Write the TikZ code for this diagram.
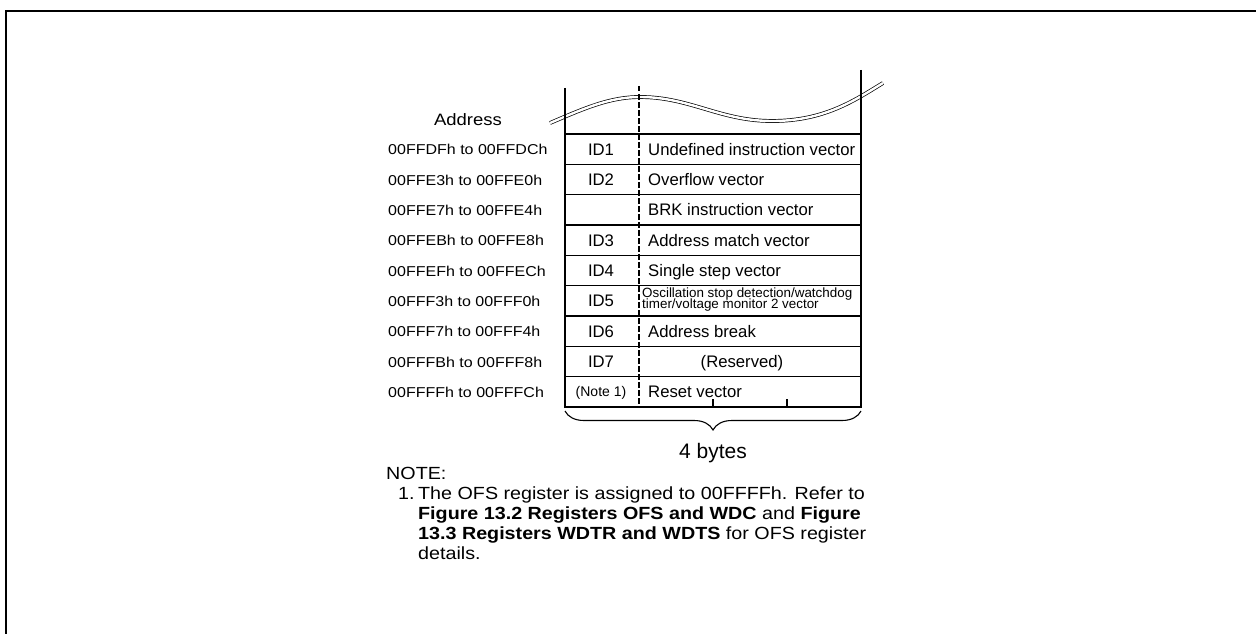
\documentclass[tikz,border=0pt]{standalone}
\usepackage{fontspec}
\setmainfont{Liberation Sans}
\newfontfamily\widefont[FakeStretch=1.12]{Liberation Sans}
\usetikzlibrary{decorations.pathreplacing}
\begin{document}
\begin{tikzpicture}[x=1pt,y=-1pt,
  addr/.style={anchor=base west,inner sep=0pt,font=\widefont\fontsize{14.3}{17}\selectfont},
  idl/.style={anchor=base,inner sep=0pt,font=\fontsize{16.7}{20}\selectfont},
  desc/.style={anchor=base west,inner sep=0pt,font=\fontsize{16.7}{20}\selectfont},
  small/.style={anchor=base west,inner sep=0pt,font=\fontsize{13.4}{11}\selectfont},
  notetxt/.style={anchor=base west,inner sep=0pt,font=\widefont\fontsize{17.6}{20}\selectfont},
  rowline/.style={line width=1.1pt},
  edgeline/.style={line width=1.6pt},
  dashline/.style={line width=2.2pt,dash pattern=on 5.5pt off 2.5pt},
  frameline/.style={line width=2.8pt}
]
\useasboundingbox (0,0) rectangle (1256,634);
% frame
\draw[frameline] (6,634) -- (6,11) -- (1256,11);
% wave (double line)
\draw[line width=0.7pt,double=white,double distance=2.4pt]
  (550,123) .. controls (585,108) and (610,97) .. (640,97)
  .. controls (690,97) and (720,121) .. (772,121)
  .. controls (825,121) and (855,100) .. (883,83);
% rows
\foreach \i in {0,...,8} {
  \draw[rowline] (565,{134+30.33*\i}) -- (861,{134+30.33*\i});
}
\draw[edgeline] (565,407) -- (861,407);
% verticals
\draw[edgeline] (565,88) -- (565,407.8);
\draw[edgeline] (861,70) -- (861,407.8);
\draw[dashline] (639,86) -- (639,407);
% byte ticks
\draw[rowline] (713,407) -- (713,399);
\draw[rowline] (787,407) -- (787,399);
% brace
\draw[line width=1.1pt,decorate,decoration={brace,mirror,amplitude=19pt}] (565,411) -- (861,411);
\node[inner sep=0pt,anchor=base,font=\fontsize{21}{24}\selectfont] (bytes) at (713,458) {4 bytes};
% header
\node[inner sep=0pt,anchor=base,font=\widefont\fontsize{16.5}{20}\selectfont] (addrhead) at (468,125) {Address};
% address labels
\node[addr] (a1) at (388,154.9) {00FFDFh to 00FFDCh};
\node[addr] (a2) at (388,185.2) {00FFE3h to 00FFE0h};
\node[addr] (a3) at (388,215.5) {00FFE7h to 00FFE4h};
\node[addr] (a4) at (388,245.9) {00FFEBh to 00FFE8h};
\node[addr] (a5) at (388,276.2) {00FFEFh to 00FFECh};
\node[addr] (a6) at (388,306.5) {00FFF3h to 00FFF0h};
\node[addr] (a7) at (388,336.9) {00FFF7h to 00FFF4h};
\node[addr] (a8) at (388,367.2) {00FFFBh to 00FFF8h};
\node[addr] (a9) at (388,397.5) {00FFFFh to 00FFFCh};
% ids
\node[idl] (id1) at (601,155.3) {ID1};
\node[idl] (id2) at (601,185.6) {ID2};
\node[idl] (id3) at (601,246.3) {ID3};
\node[idl] (id4) at (601,276.6) {ID4};
\node[idl] (id5) at (601,306.9) {ID5};
\node[idl] (id6) at (601,337.3) {ID6};
\node[idl] (id7) at (601,367.6) {ID7};
\node[inner sep=0pt,anchor=base,font=\fontsize{14}{16}\selectfont] (idn) at (601,396.8) {(Note 1)};
% descriptions
\node[desc] (d1) at (648,155.3) {Undefined instruction vector};
\node[desc] (d2) at (648,185.6) {Overflow vector};
\node[desc] (d3) at (648,215.9) {BRK instruction vector};
\node[desc] (d4) at (648,246.3) {Address match vector};
\node[desc] (d5) at (648,276.6) {Single step vector};
\node[small] (d6a) at (642,297.4) {Oscillation stop detection/watchdog};
\node[small] (d6b) at (642,308.8) {timer/voltage monitor 2 vector};
\node[desc] (d7) at (648,337.3) {Address break};
\node[idl] (d8) at (742,367.6) {(Reserved)};
\node[desc] (d9) at (648,397.9) {Reset vector};
% note
\node[notetxt] (nh) at (386,479) {NOTE:};
\node[notetxt] (n1n) at (398,499.5) {1.};
\node[notetxt] (n1) at (418,499.5) {The OFS register is assigned to 00FFFFh. Refer to};
\node[notetxt] (n2) at (418,519.5) {\textbf{Figure 13.2 Registers OFS and WDC} and \textbf{Figure}};
\node[notetxt] (n3) at (418,539.5) {\textbf{13.3 Registers WDTR and WDTS} for OFS register};
\node[notetxt] (n4) at (418,559) {details.};
\end{tikzpicture}
\end{document}
